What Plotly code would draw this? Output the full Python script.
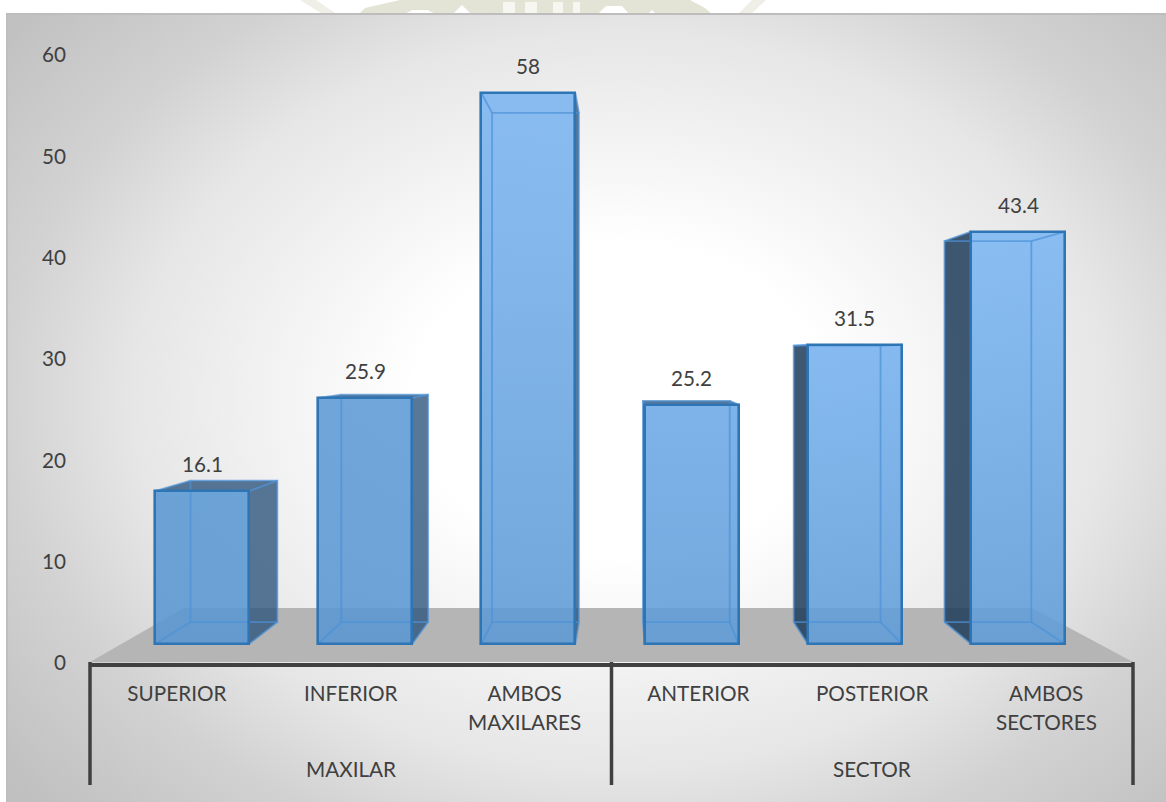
import plotly.graph_objects as go

# Chart data
groups = ["MAXILAR", "SECTOR"]
group_sizes = [3, 3]
first_lines = ["SUPERIOR", "INFERIOR", "AMBOS", "ANTERIOR", "POSTERIOR", "AMBOS"]
second_lines = ["", "", "MAXILARES", "", "", "SECTORES"]
values = [16.1, 25.9, 58, 25.2, 31.5, 43.4]
y_ticks = [0, 10, 20, 30, 40, 50, 60]

# Per-column shading of the front face (bottom colour, top colour)
face_bottom = ["#6ea4d8", "#6ea4d8", "#70a6da", "#72a8dc", "#74a9de", "#74a9de"]
face_top = ["#6fa5d9", "#70a6da", "#8bbef3", "#7db3e8", "#86baf0", "#8cc0f5"]

W, H = 1166, 802
TEXT = "#404040"
FONT = "Lato"
FONT_SIZE = 20.7
AXIS_DARK = "#404040"

# Pixel extents of the axis frame
PLOT_L, PLOT_R, PLOT_T, PLOT_B = 90, 1133, 55, 663
# Front plane of the boxes: where value 0 sits, pixels per unit, column pitch
FRONT_BASE_PX, FRONT_PX_PER_UNIT = 644, 9.5
FRONT_X0_PX, FRONT_PITCH_PX = 202, 163.2
BAR_WIDTH = 0.576
# Depth projection towards a vanishing point, in front-plane units
VANISH_X = (622 - FRONT_X0_PX) / FRONT_PITCH_PX
VANISH_Y = (FRONT_BASE_PX - 355) / FRONT_PX_PER_UNIT
DEPTH_SCALE = 0.924


def to_back(x, y):
    return (VANISH_X + DEPTH_SCALE * (x - VANISH_X),
            VANISH_Y + DEPTH_SCALE * (y - VANISH_Y))


def rgba(hex_colour, alpha):
    # Colour that composites to hex_colour over white at the given opacity
    channels = [int(hex_colour[i:i + 2], 16) for i in (1, 3, 5)]
    solved = [max(0, min(255, round((c - (1 - alpha) * 255) / alpha))) for c in channels]
    return f"rgba({solved[0]},{solved[1]},{solved[2]},{alpha})"


def py(px):
    return 1 - px / H


def paper_path(points):
    # Closed path from pixel positions, in paper coordinates
    cmds = [f"{'M' if k == 0 else 'L'} {x / W} {py(y)}" for k, (x, y) in enumerate(points)]
    return " ".join(cmds) + " Z"


fig = go.Figure()

# Backdrop: radial grey wash, stretched so its rim lands on the corners
CX, CY = 620, 400
RX, RY = 789, 598
fig.add_trace(go.Scatter(
    x=[CX - RX, CX + RX, CX + RX, CX - RX, CX - RX],
    y=[CY - RY, CY - RY, CY + RY, CY + RY, CY - RY],
    mode="lines", line=dict(width=0), fill="toself", hoverinfo="skip",
    fillgradient=dict(type="radial", colorscale=[
        [0, "#ffffff"], [0.26, "#ffffff"], [0.62, "#e6e6e6"], [0.78, "#d2d2d2"], [1, "#c0c0c0"]]),
    xaxis="x", yaxis="y", showlegend=False))

# Grey floor of the box scene
fig.add_trace(go.Scatter(
    x=[90, 1133, 1032, 184, 90], y=[662, 662, 608, 608, 662],
    mode="lines", line=dict(width=0), fill="toself", fillcolor="#b5b5b5",
    hoverinfo="skip", xaxis="x", yaxis="y", showlegend=False))

x3 = "x3"
y3 = "y3"
for i, v in enumerate(values):
    xl, xr = i - BAR_WIDTH / 2, i + BAR_WIDTH / 2
    blx, bly0 = to_back(xl, 0)
    brx, bly1 = to_back(xr, v)

    # Dark side wall, on whichever side faces the viewer
    if brx > xr:
        fig.add_trace(go.Scatter(
            x=[xr, brx, brx, xr, xr], y=[0, bly0, bly1, v, 0],
            mode="lines", line=dict(width=0), fill="toself",
            fillcolor="rgba(47,85,125,0.8)", hoverinfo="skip",
            xaxis=x3, yaxis=y3, showlegend=False))
    if blx < xl:
        fig.add_trace(go.Scatter(
            x=[xl, blx, blx, xl, xl], y=[0, bly0, bly1, v, 0],
            mode="lines", line=dict(width=0), fill="toself",
            fillcolor="rgba(30,60,90,0.85)", hoverinfo="skip",
            xaxis=x3, yaxis=y3, showlegend=False))
    # Lid, visible only on columns below eye level
    if bly1 > v:
        fig.add_trace(go.Scatter(
            x=[xl, xr, brx, blx, xl], y=[v, v, bly1, bly1, v],
            mode="lines", line=dict(width=0), fill="toself",
            fillcolor="rgba(47,85,125,0.8)", hoverinfo="skip",
            xaxis=x3, yaxis=y3, showlegend=False))

    # Front face shading
    fig.add_trace(go.Scatter(
        x=[xl, xr, xr, xl, xl], y=[0, 0, v, v, 0],
        mode="lines", line=dict(width=0), fill="toself", hoverinfo="skip",
        fillgradient=dict(type="vertical", start=0, stop=v, colorscale=[
            [0, rgba(face_bottom[i], 0.87)], [1, rgba(face_top[i], 0.87)]]),
        xaxis=x3, yaxis=y3, showlegend=False))

    # Rear edges and the depth edges seen through the box
    edge_x = [blx, brx, brx, blx, blx, None, xl, blx, None, xr, brx, None, xl, blx, None, xr, brx]
    edge_y = [bly0, bly0, bly1, bly1, bly0, None, 0, bly0, None, 0, bly0, None, v, bly1, None, v, bly1]
    fig.add_trace(go.Scatter(
        x=edge_x, y=edge_y, mode="lines",
        line=dict(color="rgba(75,145,215,0.7)", width=1.8), hoverinfo="skip",
        connectgaps=False, xaxis=x3, yaxis=y3, showlegend=False))

# Front faces as real bars, carrying the outline
fig.add_trace(go.Bar(
    x=list(range(len(values))), y=values, width=BAR_WIDTH,
    marker=dict(color="rgba(0,0,0,0)", line=dict(color="#2e75b6", width=2.6)),
    xaxis="x4", yaxis="y4", showlegend=False,
    hovertemplate="%{y}<extra></extra>"))

annotations = []
for i, v in enumerate(values):
    annotations.append(dict(
        x=i, y=v, xref="x4", yref="y4", yshift=27, text=f"{v:g}", showarrow=False,
        font=dict(family=FONT, size=FONT_SIZE, color=TEXT), yanchor="middle"))
for i, line in enumerate(second_lines):
    if line:
        annotations.append(dict(
            x=i, y=py(722), xref="x2", yref="paper", text=line, showarrow=False,
            font=dict(family=FONT, size=FONT_SIZE, color=TEXT), yanchor="middle"))

# Faint crest peeking out above the chart's top edge
CREST = "#e3e3d6"
CREST_PALE = "#efefe8"
crest_shapes = [
    ([(358, 15), (365, 8), (400, 0), (690, 0), (705, 8), (713, 15)], CREST),
    ([(300, 0), (316, 0), (338, 15), (324, 15)], CREST_PALE),
    ([(737, 15), (752, 0), (766, 0), (750, 15)], CREST_PALE),
    ([(403, 15), (412, 10), (428, 10), (437, 15)], "#ffffff"),
    ([(452, 15), (462, 5), (472, 15)], "#ffffff"),
    ([(503, 15), (503, 2), (515, 2), (515, 15)], "#f7f7f2"),
    ([(525, 15), (525, 2), (537, 2), (537, 15)], "#f7f7f2"),
    ([(553, 15), (553, 2), (563, 2), (563, 15)], "#f7f7f2"),
    ([(573, 15), (573, 2), (580, 2), (580, 15)], "#f7f7f2"),
    ([(597, 15), (606, 6), (622, 6), (630, 15)], "#ffffff"),
    ([(647, 15), (652, 10), (657, 15)], "#ffffff"),
]
shapes = [dict(type="path", xref="paper", yref="paper", layer="below", line_width=0,
               fillcolor=colour, path=paper_path(points)) for points, colour in crest_shapes]


def category_edge_paper(position):
    # Paper x of a position on the labelled category axis
    span = len(first_lines)
    return (PLOT_L + (position + 0.5) / span * (PLOT_R - PLOT_L)) / W


# Category group labels and dividers
boundary = -0.5
shapes.append(dict(type="line", xref="paper", yref="paper",
                   x0=category_edge_paper(boundary), x1=category_edge_paper(boundary),
                   y0=py(662), y1=py(785), line=dict(color=AXIS_DARK, width=3.5)))
for name, size in zip(groups, group_sizes):
    centre = boundary + size / 2
    annotations.append(dict(
        x=centre, y=py(769), xref="x2", yref="paper", text=name, showarrow=False,
        font=dict(family=FONT, size=FONT_SIZE, color=TEXT), yanchor="middle"))
    boundary += size
    shapes.append(dict(type="line", xref="paper", yref="paper",
                       x0=category_edge_paper(boundary), x1=category_edge_paper(boundary),
                       y0=py(662), y1=py(785), line=dict(color=AXIS_DARK, width=3.5)))

front_x_range = [(PLOT_L - FRONT_X0_PX) / FRONT_PITCH_PX, (PLOT_R - FRONT_X0_PX) / FRONT_PITCH_PX]
front_y_range = [(FRONT_BASE_PX - PLOT_B) / FRONT_PX_PER_UNIT, (FRONT_BASE_PX - PLOT_T) / FRONT_PX_PER_UNIT]
plot_x_domain = [PLOT_L / W, PLOT_R / W]
plot_y_domain = [py(PLOT_B), py(PLOT_T)]
hidden = dict(visible=False, showgrid=False, zeroline=False, automargin=False)

fig.update_layout(
    template="none",
    width=W, height=H, margin=dict(l=0, r=0, t=0, b=0, pad=0), autosize=False,
    paper_bgcolor="#ffffff", plot_bgcolor="rgba(0,0,0,0)", showlegend=False,
    font=dict(family=FONT, size=FONT_SIZE, color=TEXT),
    annotations=annotations, shapes=shapes,
    # Backdrop subplot, in pixels
    xaxis=dict(domain=[8 / W, 1], range=[8, W], side="top", showline=True, linecolor="#bdbdbd",
               linewidth=1.5, showticklabels=False, ticks="", showgrid=False, zeroline=False,
               anchor="y", automargin=False),
    yaxis=dict(domain=[0, py(15)], range=[H, 15], showline=True, linecolor="#bfbfbf",
               linewidth=2, showticklabels=False, ticks="", showgrid=False, zeroline=False,
               anchor="x", automargin=False),
    # Labelled axes
    xaxis2=dict(domain=plot_x_domain, range=[-0.5, 5.5], anchor="y2", tickmode="array",
                tickvals=list(range(len(first_lines))), ticktext=first_lines, ticks="",
                ticklabelstandoff=9, showgrid=False, zeroline=False, showline=True,
                linecolor=AXIS_DARK, linewidth=3.5, automargin=False,
                tickfont=dict(family=FONT, size=FONT_SIZE, color=TEXT)),
    yaxis2=dict(domain=plot_y_domain, range=[0, 60], anchor="x2", tickmode="array",
                tickvals=y_ticks, ticks="", ticklabelstandoff=23, showgrid=False, zeroline=False,
                showline=False, automargin=False,
                tickfont=dict(family=FONT, size=FONT_SIZE, color=TEXT)),
    # Front-plane scale of the boxes
    xaxis3=dict(overlaying="x2", range=front_x_range, anchor="y3", **hidden),
    yaxis3=dict(overlaying="y2", range=front_y_range, anchor="x3", **hidden),
    xaxis4=dict(overlaying="x2", range=front_x_range, anchor="y4", **hidden),
    yaxis4=dict(overlaying="y2", range=front_y_range, anchor="x4", **hidden),
    bargap=0,
)

fig.write_html("out.html")
